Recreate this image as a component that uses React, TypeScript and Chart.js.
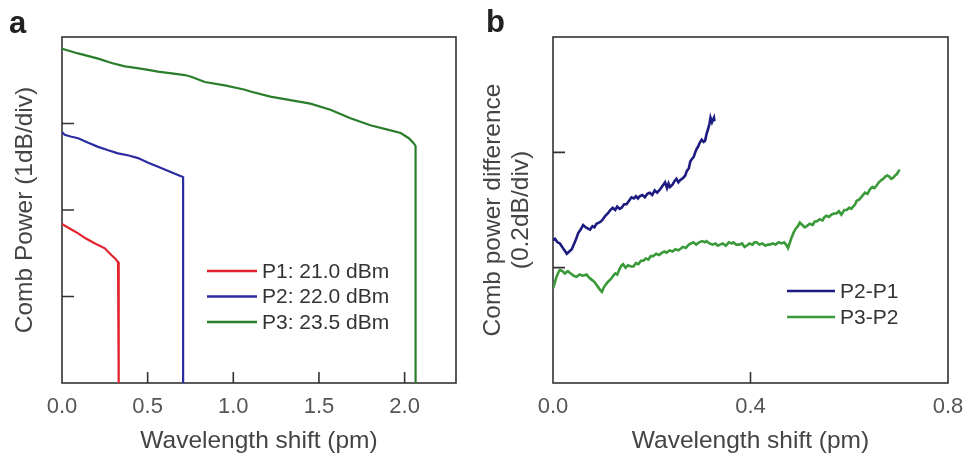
import React, { useEffect, useRef } from "react";
import { Chart, registerables } from "chart.js";

Chart.register(...registerables);

const FONT = "'Liberation Sans', Arial, Helvetica, sans-serif";

// ---------- Panel a: comb power (div units, 1 dB/div) vs wavelength shift (pm)
const p1X = [0.0, 0.006, 0.05, 0.094, 0.14, 0.19, 0.25, 0.288, 0.31, 0.327, 0.331, 0.331];
const p1Y = [1.84, 1.83, 1.78, 1.73, 1.67, 1.615, 1.557, 1.48, 1.44, 1.4, 1.38, 0];

const p2X = [0.0, 0.016, 0.05, 0.094, 0.15, 0.211, 0.27, 0.327, 0.39, 0.444, 0.5, 0.561, 0.61, 0.659, 0.702, 0.707, 0.707];
const p2Y = [2.9, 2.87, 2.85, 2.83, 2.78, 2.73, 2.69, 2.655, 2.63, 2.6, 2.55, 2.5, 2.46, 2.42, 2.385, 2.38, 0];

const p3X = [0.0, 0.006, 0.094, 0.211, 0.29, 0.367, 0.44, 0.503, 0.561, 0.64, 0.718, 0.754, 0.834, 0.951, 1.068, 1.1, 1.216, 1.333, 1.45, 1.567, 1.684, 1.8, 1.918, 1.977, 2.025, 2.054, 2.064, 2.064];
const p3Y = [3.87, 3.86, 3.81, 3.75, 3.7, 3.66, 3.64, 3.62, 3.6, 3.58, 3.56, 3.54, 3.48, 3.44, 3.39, 3.37, 3.31, 3.27, 3.23, 3.16, 3.06, 2.98, 2.92, 2.89, 2.83, 2.77, 2.74, 0];

const legendA = ["P1: 21.0 dBm", "P2: 22.0 dBm", "P3: 23.5 dBm"];

// ---------- Panel b: comb power difference (div units, 0.2 dB/div)
const d21X = [0.0, 0.004, 0.009, 0.014, 0.02, 0.025, 0.028, 0.033, 0.038, 0.043, 0.047, 0.051, 0.056, 0.061, 0.066, 0.07, 0.075, 0.08, 0.084, 0.088, 0.093, 0.097, 0.101, 0.106, 0.111, 0.116, 0.121, 0.126, 0.13, 0.135, 0.139, 0.144, 0.149, 0.154, 0.159, 0.164, 0.168, 0.172, 0.176, 0.181, 0.186, 0.191, 0.196, 0.201, 0.206, 0.211, 0.217, 0.222, 0.227, 0.231, 0.234, 0.237, 0.242, 0.246, 0.25, 0.254, 0.258, 0.264, 0.268, 0.271, 0.275, 0.278, 0.281, 0.285, 0.288, 0.291, 0.294, 0.297, 0.301, 0.305, 0.308, 0.311, 0.314, 0.317, 0.319, 0.322, 0.324, 0.326, 0.327];
const d21Y = [1.24, 1.25, 1.22, 1.21, 1.17, 1.14, 1.12, 1.14, 1.16, 1.21, 1.25, 1.3, 1.33, 1.37, 1.35, 1.34, 1.33, 1.36, 1.35, 1.38, 1.39, 1.4, 1.42, 1.45, 1.47, 1.5, 1.52, 1.5, 1.53, 1.51, 1.52, 1.55, 1.55, 1.58, 1.61, 1.6, 1.62, 1.6, 1.62, 1.63, 1.61, 1.64, 1.65, 1.63, 1.67, 1.65, 1.68, 1.71, 1.74, 1.69, 1.73, 1.7, 1.72, 1.75, 1.77, 1.74, 1.76, 1.78, 1.8, 1.84, 1.86, 1.92, 1.94, 1.96, 2.0, 2.03, 2.05, 2.08, 2.11, 2.09, 2.1, 2.16, 2.2, 2.25, 2.3, 2.26, 2.28, 2.3, 2.27];

const d32X = [0.0, 0.003, 0.007, 0.011, 0.014, 0.019, 0.024, 0.03, 0.036, 0.042, 0.048, 0.054, 0.06, 0.068, 0.074, 0.08, 0.085, 0.09, 0.095, 0.099, 0.103, 0.108, 0.112, 0.117, 0.122, 0.126, 0.13, 0.135, 0.139, 0.142, 0.147, 0.152, 0.158, 0.163, 0.168, 0.173, 0.178, 0.183, 0.188, 0.193, 0.198, 0.203, 0.209, 0.215, 0.221, 0.226, 0.23, 0.236, 0.242, 0.248, 0.254, 0.257, 0.263, 0.269, 0.275, 0.28, 0.284, 0.29, 0.296, 0.302, 0.308, 0.311, 0.317, 0.323, 0.329, 0.334, 0.338, 0.344, 0.35, 0.356, 0.362, 0.365, 0.371, 0.377, 0.383, 0.388, 0.392, 0.398, 0.404, 0.408, 0.412, 0.418, 0.424, 0.43, 0.435, 0.439, 0.445, 0.451, 0.457, 0.463, 0.468, 0.472, 0.476, 0.48, 0.483, 0.488, 0.492, 0.496, 0.5, 0.505, 0.51, 0.514, 0.52, 0.526, 0.53, 0.534, 0.54, 0.546, 0.55, 0.554, 0.559, 0.564, 0.569, 0.574, 0.579, 0.584, 0.59, 0.595, 0.6, 0.604, 0.608, 0.612, 0.615, 0.62, 0.626, 0.632, 0.637, 0.642, 0.647, 0.651, 0.655, 0.66, 0.665, 0.669, 0.673, 0.677, 0.681, 0.685, 0.689, 0.693, 0.696, 0.699, 0.702];
const d32Y = [0.82, 0.86, 0.92, 0.96, 0.98, 0.97, 0.95, 0.97, 0.95, 0.93, 0.92, 0.94, 0.93, 0.94, 0.91, 0.89, 0.87, 0.84, 0.81, 0.79, 0.83, 0.86, 0.88, 0.9, 0.93, 0.95, 0.94, 0.99, 1.02, 1.03, 1.0, 1.02, 1.01, 1.01, 1.04, 1.03, 1.06, 1.06, 1.08, 1.07, 1.1, 1.1, 1.12, 1.11, 1.13, 1.14, 1.13, 1.15, 1.14, 1.16, 1.15, 1.16, 1.18, 1.17, 1.2, 1.21, 1.22, 1.2, 1.22, 1.23, 1.22, 1.23, 1.21, 1.2, 1.21, 1.19, 1.2, 1.21, 1.19, 1.22, 1.21, 1.22, 1.2, 1.2, 1.21, 1.18, 1.19, 1.21, 1.2, 1.22, 1.22, 1.2, 1.21, 1.19, 1.2, 1.2, 1.21, 1.2, 1.22, 1.21, 1.22, 1.2, 1.17, 1.22, 1.26, 1.31, 1.34, 1.36, 1.39, 1.37, 1.35, 1.36, 1.38, 1.37, 1.4, 1.4, 1.42, 1.41, 1.44, 1.45, 1.44, 1.46, 1.47, 1.47, 1.49, 1.46, 1.5, 1.5, 1.52, 1.51, 1.53, 1.55, 1.58, 1.59, 1.62, 1.65, 1.64, 1.68, 1.7, 1.69, 1.71, 1.74, 1.76, 1.77, 1.79, 1.8, 1.79, 1.77, 1.78, 1.8, 1.81, 1.83, 1.85];

const legendB = ["P2-P1", "P3-P2"];

const zip = (xs: number[], ys: number[]) => xs.map((x, i) => ({ x, y: ys[i] }));

type Deco = {
  letter: string;
  letterX: number;
  letterY: number;
  legX: number;
  legY: number;
  legRow: number;
  legLen: number;
};

function decoPlugin(d: Deco) {
  return {
    id: "deco",
    beforeDatasetsDraw(chart: any) {
      const { ctx, chartArea: a } = chart;
      const xs = chart.scales.x;
      const ys = chart.scales.y;
      ctx.save();
      ctx.strokeStyle = "#333";
      ctx.lineWidth = 1.6;
      ctx.strokeRect(a.left, a.top, a.right - a.left, a.bottom - a.top);
      ctx.beginPath();
      xs.ticks.forEach((t: any) => {
        const px = xs.getPixelForValue(t.value);
        if (px > a.left + 2 && px < a.right - 2) {
          ctx.moveTo(px, a.bottom);
          ctx.lineTo(px, a.bottom - 11);
        }
      });
      ys.ticks.forEach((t: any) => {
        const py = ys.getPixelForValue(t.value);
        if (py > a.top + 2 && py < a.bottom - 2) {
          ctx.moveTo(a.left, py);
          ctx.lineTo(a.left + 12, py);
        }
      });
      ctx.stroke();
      ctx.restore();
    },
    afterDraw(chart: any) {
      const { ctx } = chart;
      ctx.save();
      ctx.font = `21px ${FONT}`;
      ctx.textBaseline = "middle";
      ctx.textAlign = "left";
      chart.data.datasets.forEach((ds: any, i: number) => {
        const y = d.legY + i * d.legRow;
        ctx.strokeStyle = ds.borderColor;
        ctx.lineWidth = 2.6;
        ctx.beginPath();
        ctx.moveTo(d.legX, y);
        ctx.lineTo(d.legX + d.legLen, y);
        ctx.stroke();
        ctx.fillStyle = "#333";
        ctx.fillText(ds.label, d.legX + d.legLen + 5, y + 1);
      });
      ctx.font = `bold 31px ${FONT}`;
      ctx.fillStyle = "#222";
      ctx.textBaseline = "alphabetic";
      ctx.fillText(d.letter, d.letterX, d.letterY);
      ctx.restore();
    },
  };
}

function baseOptions(
  xMax: number,
  xStep: number,
  yMax: number,
  yWidth: number,
  padRight: number,
  yTitle: string | string[],
  yTitlePad: number,
  yLineHeight: number
): any {
  return {
    responsive: false,
    animation: false,
    events: [],
    layout: { padding: { top: 37, right: padRight, left: 0, bottom: 0 } },
    plugins: { legend: { display: false }, tooltip: { enabled: false } },
    elements: { point: { radius: 0 }, line: { tension: 0 } },
    scales: {
      x: {
        type: "linear",
        min: 0,
        max: xMax,
        afterFit: (s: any) => {
          s.height = 77;
          s.paddingLeft = 0;
          s.paddingRight = 0;
        },
        grid: { display: false, drawTicks: false },
        border: { display: false },
        ticks: {
          stepSize: xStep,
          includeBounds: false,
          autoSkip: false,
          maxRotation: 0,
          padding: 11,
          color: "#555",
          font: { family: FONT, size: 22 },
          callback: (v: any) => Number(v).toFixed(1),
        },
        title: {
          display: true,
          text: "Wavelength shift (pm)",
          color: "#444",
          font: { family: FONT, size: 24.5 },
          padding: { top: 0, bottom: 4 },
        },
      },
      y: {
        type: "linear",
        min: 0,
        max: yMax,
        afterFit: (s: any) => {
          s.width = yWidth;
          s.paddingTop = 0;
          s.paddingBottom = 0;
        },
        grid: { display: false, drawTicks: false },
        border: { display: false },
        ticks: { display: false, stepSize: 1 },
        title: {
          display: true,
          text: yTitle,
          color: "#444",
          font: { family: FONT, size: 24.5, lineHeight: yLineHeight },
          padding: { top: yTitlePad, bottom: 0 },
        },
      },
    },
  };
}

function PanelA() {
  const ref = useRef<HTMLCanvasElement | null>(null);
  useEffect(() => {
    if (!ref.current) return;
    const chart = new Chart(ref.current, {
      type: "line",
      data: {
        datasets: [
          { label: legendA[0], data: zip(p1X, p1Y), borderColor: "#e3222c", borderWidth: 2.2 },
          { label: legendA[1], data: zip(p2X, p2Y), borderColor: "#2c2ca2", borderWidth: 2.2 },
          { label: legendA[2], data: zip(p3X, p3Y), borderColor: "#2a7d2a", borderWidth: 2.2 },
        ],
      },
      options: baseOptions(2.3, 0.5, 4, 62, 14, "Comb Power (1dB/div)", 11, 1.2),
      plugins: [
        decoPlugin({ letter: "a", letterX: 9, letterY: 33, legX: 207, legY: 271, legRow: 25.5, legLen: 50 }) as any,
      ],
    });
    return () => chart.destroy();
  }, []);
  return (
    <canvas
      ref={ref}
      width={470}
      height={460}
      style={{ position: "absolute", left: 0, top: 0, width: 470, height: 460 }}
    />
  );
}

function PanelB() {
  const ref = useRef<HTMLCanvasElement | null>(null);
  useEffect(() => {
    if (!ref.current) return;
    const chart = new Chart(ref.current, {
      type: "line",
      data: {
        datasets: [
          { label: legendB[0], data: zip(d21X, d21Y), borderColor: "#1b1b80", borderWidth: 2.6 },
          { label: legendB[1], data: zip(d32X, d32Y), borderColor: "#3a9a3a", borderWidth: 2.6 },
        ],
      },
      options: baseOptions(0.8, 0.4, 3, 83, 20, ["Comb power difference", "(0.2dB/div)"], 8.5, 1.17),
      plugins: [
        decoPlugin({ letter: "b", letterX: 16, letterY: 32, legX: 317, legY: 291, legRow: 26, legLen: 48 }) as any,
      ],
    });
    return () => chart.destroy();
  }, []);
  return (
    <canvas
      ref={ref}
      width={498}
      height={460}
      style={{ position: "absolute", left: 470, top: 0, width: 498, height: 460 }}
    />
  );
}

export default function App() {
  return (
    <div
      style={{
        position: "fixed",
        left: 0,
        top: 0,
        width: 968,
        height: 460,
        background: "#ffffff",
        overflow: "hidden",
      }}
    >
      <PanelA />
      <PanelB />
    </div>
  );
}
